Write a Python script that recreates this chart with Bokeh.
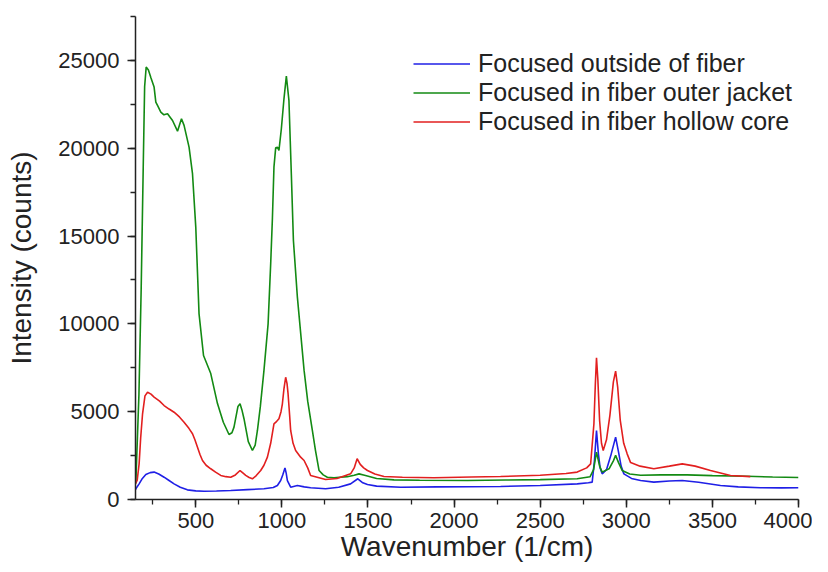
from bokeh.plotting import figure
from bokeh.models import Range1d, SingleIntervalTicker, Legend, LegendItem
from bokeh.embed import file_html
from bokeh.resources import INLINE

# ---- data ----
blue_x = [150, 152, 171, 190, 210, 235, 258, 285, 316, 345, 374, 410, 451, 500, 548, 620, 703, 800, 896, 950,
          974, 993, 1005, 1018, 1025, 1032, 1051, 1090, 1130, 1167, 1254, 1330, 1399, 1441, 1470, 1497, 1550,
          1690, 1900, 2270, 2500, 2715, 2780, 2802, 2815, 2827, 2838, 2848, 2860, 2885, 2910, 2938, 2955,
          2970, 2986, 3030, 3083, 3160, 3250, 3325, 3420, 3547, 3650, 3779, 3900, 4000]
blue_y = [550, 610, 890, 1200, 1420, 1530, 1560, 1450, 1270, 1080, 890, 700, 550, 490, 470, 480, 510, 560, 610, 680,
          800, 1080, 1400, 1800, 1500, 1080, 700, 800, 720, 670, 610, 700, 890, 1180, 950, 850, 760,
          700, 720, 740, 800, 890, 950, 990, 2200, 3930, 2600, 1800, 1460, 1700, 2500, 3550, 2700,
          1900, 1460, 1200, 1080, 990, 1050, 1080, 980, 800, 720, 670, 660, 670]

green_x = [150, 152, 170, 183, 195, 203, 212, 225, 240, 258, 268, 280, 297, 315, 336, 365, 394, 417, 432, 461,
           481, 500, 519, 545, 587, 626, 660, 693, 710, 722, 745, 757, 768, 780, 805, 829, 845, 858, 875, 896,
           920, 935, 945, 954, 964, 975, 983, 997, 1012, 1026, 1041, 1055, 1067, 1090, 1129, 1150, 1177, 1195,
           1216, 1240, 1264, 1303, 1380, 1420, 1448, 1480, 1550, 1651, 1800, 2077, 2300, 2500, 2715, 2790,
           2810, 2827, 2845, 2860, 2900, 2925, 2938, 2955, 2976, 3020, 3083, 3200, 3353, 3500, 3700, 3850, 4000]
green_y = [900, 1000, 6000, 12000, 19000, 23500, 24620, 24450, 24000, 23480, 22630, 22400, 22060, 21900, 21960,
           21580, 20970, 21680, 21300, 20060, 18550, 15510, 10570, 8200, 7170, 5460, 4400, 3700, 3800, 4120,
           5300, 5450, 5100, 4600, 3300, 2790, 3100, 3930, 5300, 7350, 10000, 13420, 16000, 18920, 20020,
           20050, 19870, 21110, 22800, 24110, 22720, 18500, 14750, 11520, 7350, 5600, 3930, 2800, 1650, 1400,
           1270, 1240, 1300, 1380, 1460, 1380, 1200, 1120, 1100, 1080, 1110, 1130, 1180, 1300, 1700, 2700,
           1900, 1560, 1750, 2200, 2510, 2100, 1650, 1450, 1380, 1400, 1400, 1360, 1320, 1280, 1250]

red_x = [150, 160, 171, 180, 191, 205, 220, 240, 258, 290, 316, 345, 374, 405, 432, 460, 481, 495, 510, 525,
         539, 560, 587, 615, 645, 675, 703, 730, 757, 775, 790, 810, 829, 850, 877, 896, 916, 935, 954, 970,
         983, 995, 1003, 1012, 1022, 1030, 1036, 1045, 1051, 1065, 1080, 1109, 1129, 1150, 1167, 1205, 1254,
         1320, 1399, 1420, 1437, 1455, 1475, 1497, 1540, 1593, 1700, 1883, 2100, 2270, 2500, 2650, 2715,
         2770, 2793, 2812, 2820, 2827, 2835, 2845, 2856, 2866, 2885, 2905, 2925, 2938, 2950, 2965, 2985,
         3005, 3025, 3080, 3160, 3250, 3325, 3400, 3489, 3605, 3720]
red_y = [900, 1100, 2030, 3500, 4880, 5900, 6110, 6000, 5830, 5600, 5350, 5150, 4970, 4700, 4400, 4050, 3740,
         3400, 2980, 2550, 2220, 1950, 1750, 1560, 1370, 1300, 1270, 1400, 1650, 1500, 1370, 1250, 1180, 1350,
         1650, 1950, 2410, 3200, 4310, 4450, 4600, 5000, 5450, 6300, 6960, 6600, 6010, 4800, 3930, 3200, 2790,
         2410, 2220, 1800, 1370, 1270, 1140, 1200, 1460, 1800, 2320, 2000, 1800, 1650, 1450, 1310, 1270, 1240,
         1280, 1310, 1380, 1480, 1560, 1800, 2030, 4310, 6500, 8070, 6800, 4500, 3200, 2790, 3400, 4800, 6700,
         7310, 6400, 4500, 3200, 2600, 2100, 1900, 1750, 1900, 2030, 1900, 1650, 1370, 1300]

series_labels = ["Focused outside of fiber", "Focused in fiber outer jacket", "Focused in fiber hollow core"]
series_colors = ["#1f1fe6", "#138a13", "#e21f1f"]
x_title = "Wavenumber (1/cm)"
y_title = "Intensity (counts)"

FONT = "Liberation Sans"
TXT = "#222222"

p = figure(width=812, height=570, output_backend="svg", toolbar_location=None,
           x_range=Range1d(150, 4000), y_range=Range1d(0, 27500),
           min_border_left=135, min_border_right=14, min_border_top=16, min_border_bottom=71)
p.outline_line_color = None
p.grid.grid_line_color = None
p.background_fill_color = "white"

r_blue = p.line(blue_x, blue_y, line_color=series_colors[0], line_width=1.6)
r_green = p.line(green_x, green_y, line_color=series_colors[1], line_width=1.6)
r_red = p.line(red_x, red_y, line_color=series_colors[2], line_width=1.6)

p.xaxis.ticker = SingleIntervalTicker(interval=500, num_minor_ticks=2)
p.yaxis.ticker = SingleIntervalTicker(interval=5000, num_minor_ticks=2)

for ax in (p.xaxis[0], p.yaxis[0]):
    ax.axis_line_color = TXT
    ax.axis_line_width = 1.5
    ax.major_tick_line_color = TXT
    ax.major_tick_line_width = 1.5
    ax.minor_tick_line_color = TXT
    ax.minor_tick_line_width = 1.3
    ax.major_tick_out = 8
    ax.major_tick_in = 0
    ax.minor_tick_out = 5
    ax.minor_tick_in = 0
    ax.major_label_text_font = FONT
    ax.major_label_text_font_size = "22px"
    ax.major_label_text_color = TXT
    ax.axis_label_text_font = FONT
    ax.axis_label_text_font_size = "28px"
    ax.axis_label_text_font_style = "normal"
    ax.axis_label_text_color = TXT

p.xaxis.axis_label = x_title
p.xaxis.major_label_standoff = 5
p.xaxis.axis_label_standoff = 0
p.yaxis.axis_label = y_title
p.yaxis.major_label_standoff = 8
p.yaxis.axis_label_standoff = 18

legend = Legend(items=[LegendItem(label=series_labels[0], renderers=[r_blue]),
                       LegendItem(label=series_labels[1], renderers=[r_green]),
                       LegendItem(label=series_labels[2], renderers=[r_red])],
                location=(278, 363))
legend.border_line_color = None
legend.background_fill_alpha = 0
legend.padding = 0
legend.margin = 0
legend.spacing = 0
legend.glyph_width = 57
legend.glyph_height = 29
legend.label_height = 29
legend.label_standoff = 8
legend.label_text_font = FONT
legend.label_text_font_size = "25px"
legend.label_text_color = TXT
p.add_layout(legend)

open("out.html", "w").write(file_html(p, INLINE))
